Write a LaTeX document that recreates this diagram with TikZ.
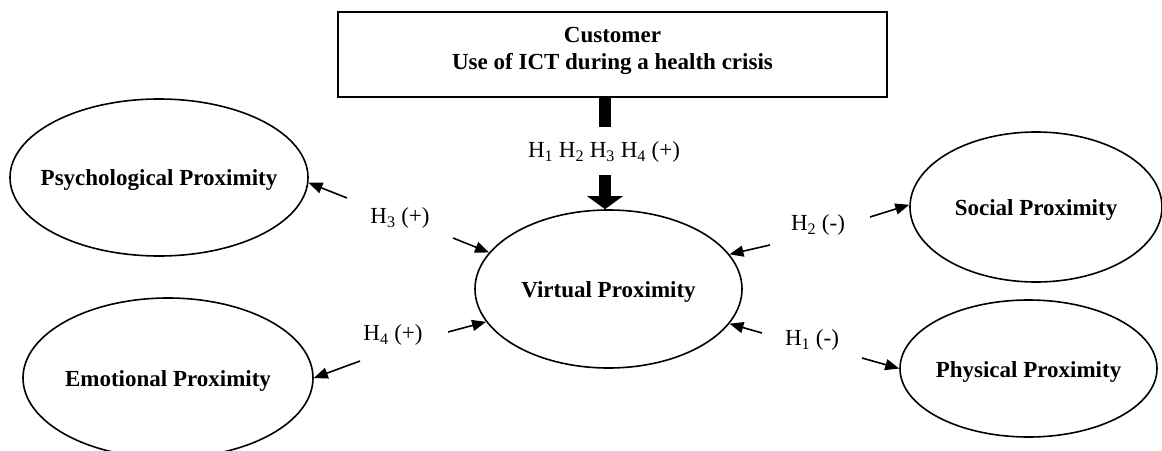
\documentclass[tikz,border=0pt]{standalone}
\usepackage{fontspec}
\setmainfont{Liberation Serif}
\usetikzlibrary{shapes.geometric,arrows.meta}

\tikzset{
  construct/.style={draw=black, line width=1.6pt, ellipse, inner sep=0pt,
    label={[font=\fontsize{23}{27}\selectfont\bfseries, inner sep=0pt, yshift=-3pt]center:#1}},
  hyp/.style={font=\fontsize{23}{27}\selectfont, inner sep=0pt},
  link/.style={line width=1.6pt, -{Triangle[length=14pt,width=11pt]}},
  mainlink/.style={line width=12pt},
}

\begin{document}
\begin{tikzpicture}[x=1pt, y=-1pt]
\useasboundingbox (0,0) rectangle (1162,450);

% source box
\node[draw=black, line width=1.6pt, rectangle, minimum width=549pt, minimum height=85pt,
      inner sep=0pt,
      label={[font=\fontsize{23}{27}\selectfont\bfseries, align=center, yshift=4pt]center:Customer\\Use of ICT during a health crisis}]
  (ict) at (612.5,54.5) {};

% constructs
\node[construct=Psychological Proximity, minimum width=298pt, minimum height=157pt] (psy) at (159,177.5) {};
\node[construct=Emotional Proximity, minimum width=290pt, minimum height=160pt] (emo) at (168,378) {};
\node[construct=Virtual Proximity, minimum width=267pt, minimum height=158pt] (vir) at (608.5,289) {};
\node[construct=Social Proximity, minimum width=252pt, minimum height=150pt] (soc) at (1036,207) {};
\node[construct=Physical Proximity, minimum width=257pt, minimum height=137pt] (phy) at (1028.5,368.5) {};

% hypothesis labels
\node[hyp] (hall) at (604,152) {H\textsubscript{1} H\textsubscript{2} H\textsubscript{3} H\textsubscript{4} (+)};
\node[hyp] (h3) at (400,218) {H\textsubscript{3} (+)};
\node[hyp] (h4) at (393,335) {H\textsubscript{4} (+)};
\node[hyp] (h2) at (818,225) {H\textsubscript{2} (-)};
\node[hyp] (h1) at (812,340) {H\textsubscript{1} (-)};

% arrow tails
\coordinate (mainA) at (605,127);
\coordinate (mainB) at (605,175);
\coordinate (t3a) at (347,198);
\coordinate (t3b) at (453,238);
\coordinate (t4a) at (360,361);
\coordinate (t4b) at (448,332);
\coordinate (t2a) at (770,245);
\coordinate (t2b) at (870,217);
\coordinate (t1a) at (762,333);
\coordinate (t1b) at (862,358);

% main effect
\draw[mainlink] (ict.south -| mainA) -- (mainA);
\draw[mainlink, -{Triangle[length=13pt,width=35pt]}] (mainB) -- ([xshift=-3.5pt]vir.north);

% hypothesised links
\draw[link] (t3a) -- (psy.-2.5);
\draw[link] (t3b) -- (vir.163.4);
\draw[link] (t4a) -- (emo.0.4);
\draw[link] (t4b) -- (vir.195);
\draw[link] (t2a) -- (vir.16);
\draw[link] (t2b) -- (soc.179);
\draw[link] (t1a) -- (vir.-16.8);
\draw[link] (t1b) -- (phy.180);
\end{tikzpicture}
\end{document}
